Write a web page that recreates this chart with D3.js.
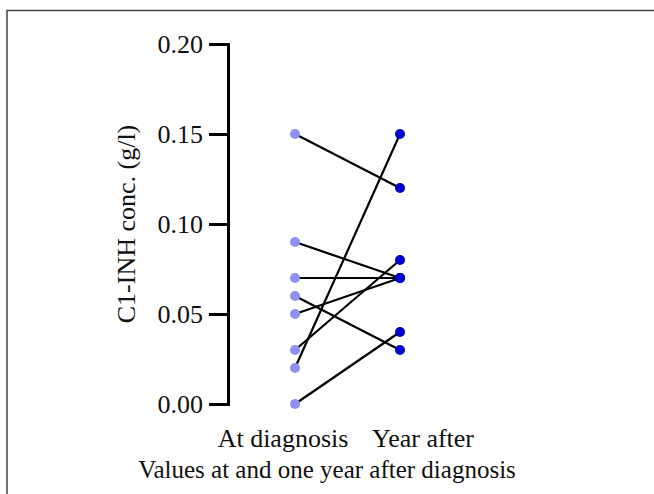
<!DOCTYPE html>
<html>
<head>
  <style>
    body { margin: 0; background: #fff; }
    svg text { font-family: "Liberation Serif", "Times New Roman", serif; fill: #111; }
  </style>
</head>
<body>
  <svg width="654" height="494"></svg>
  <script src="https://d3js.org/d3.v7.min.js"></script>
  <script>
    // values (g/l)
    const groups = ["At diagnosis", "Year after"];
    const atDiagnosis = [0.15, 0.09, 0.07, 0.06, 0.05, 0.03, 0.02, 0.00];
    const yearAfter   = [0.12, 0.07, 0.07, 0.03, 0.07, 0.08, 0.15, 0.04];
    const yTicks = [0, 0.05, 0.10, 0.15, 0.20];

    const svg = d3.select("svg");

    // frame (top and left edge only)
    svg.append("path")
      .attr("d", "M7,494V10.5H654")
      .attr("fill", "none")
      .attr("stroke", "#444")
      .attr("stroke-width", 1.5);

    const y = d3.scaleLinear().domain([0, 0.2]).range([404, 44]);
    const x = d3.scalePoint().domain(groups).range([295, 400]);
    const xLabel = d3.scalePoint().domain(groups).range([283, 423]);

    // y axis
    const yAxis = svg.append("g")
      .attr("transform", "translate(228,0)")
      .call(d3.axisLeft(y).tickValues(yTicks).tickFormat(d3.format(".2f"))
        .tickSize(19).tickSizeOuter(0).tickPadding(6));
    yAxis.select(".domain").attr("stroke", "#000").attr("stroke-width", 3)
      .attr("stroke-linecap", "square");
    yAxis.selectAll(".tick line").attr("stroke", "#000").attr("stroke-width", 3);
    yAxis.selectAll(".tick text")
      .attr("font-size", 26)
      .attr("font-family", "Liberation Serif, serif")
      .attr("fill", "#111");

    // paired lines
    const pairs = atDiagnosis.map((v, i) => ({ a: v, b: yearAfter[i] }));
    svg.append("g").selectAll("line")
      .data(pairs)
      .join("line")
      .attr("x1", x(groups[0]))
      .attr("x2", x(groups[1]))
      .attr("y1", d => y(d.a))
      .attr("y2", d => y(d.b))
      .attr("stroke", "#000")
      .attr("stroke-width", 2.2);

    // dots
    svg.append("g").selectAll("circle")
      .data(atDiagnosis)
      .join("circle")
      .attr("cx", x(groups[0]))
      .attr("cy", d => y(d))
      .attr("r", 5)
      .attr("fill", "#9090f0");
    svg.append("g").selectAll("circle")
      .data(yearAfter)
      .join("circle")
      .attr("cx", x(groups[1]))
      .attr("cy", d => y(d))
      .attr("r", 5)
      .attr("fill", "#0000c8");

    // category labels
    svg.append("g").selectAll("text")
      .data(groups)
      .join("text")
      .attr("x", d => xLabel(d))
      .attr("y", 447)
      .attr("text-anchor", "middle")
      .attr("font-size", 26)
      .text(d => d);

    // axis titles
    svg.append("text")
      .attr("transform", "translate(135," + ((y(0) + y(0.2)) / 2) + ") rotate(-90)")
      .attr("text-anchor", "middle")
      .attr("font-size", 26)
      .text("C1-INH conc. (g/l)");

    svg.append("text")
      .attr("x", 327)
      .attr("y", 478)
      .attr("text-anchor", "middle")
      .attr("font-size", 25)
      .text("Values at and one year after diagnosis");
  </script>
</body>
</html>
